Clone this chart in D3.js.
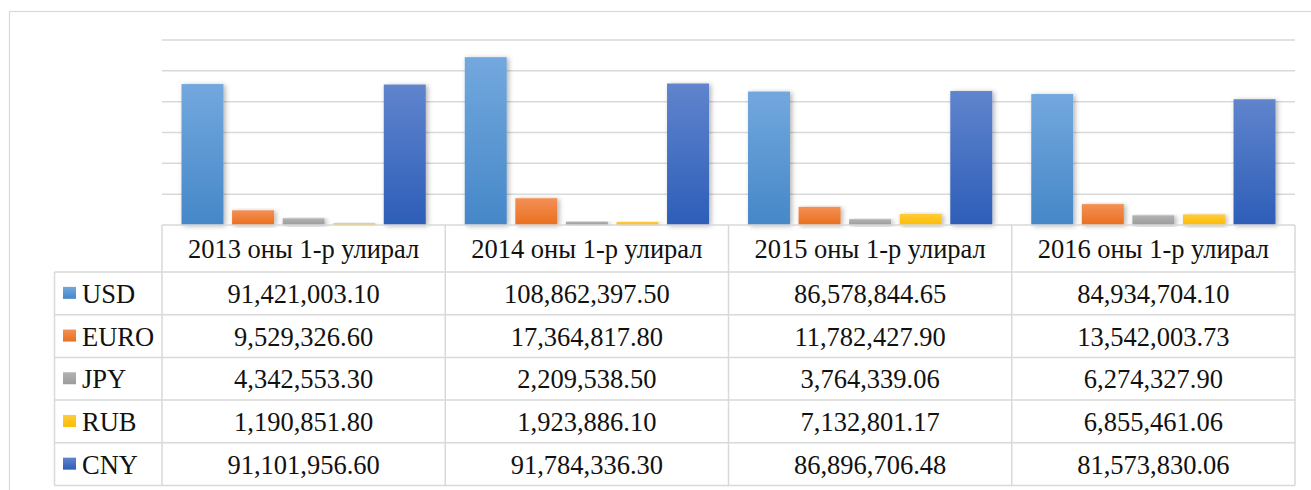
<!DOCTYPE html>
<html>
<head>
<meta charset="utf-8">
<script src="https://cdn.jsdelivr.net/npm/d3@7"></script>
<style>
html,body{margin:0;padding:0;background:#fff;}
svg{display:block;}
</style>
</head>
<body>
<svg id="chart" width="1311" height="490"></svg>
<script>
const categories = ["2013 оны 1-р улирал", "2014 оны 1-р улирал", "2015 оны 1-р улирал", "2016 оны 1-р улирал"];
const seriesNames = ["USD", "EURO", "JPY", "RUB", "CNY"];
const usd  = [91421003.10, 108862397.50, 86578844.65, 84934704.10];
const euro = [9529326.60, 17364817.80, 11782427.90, 13542003.73];
const jpy  = [4342553.30, 2209538.50, 3764339.06, 6274327.90];
const rub  = [1190851.80, 1923886.10, 7132801.17, 6855461.06];
const cny  = [91101956.60, 91784336.30, 86896706.48, 81573830.06];
const yTicks = [0, 20000000, 40000000, 60000000, 80000000, 100000000, 120000000];

(function () {
const seriesValues = [usd, euro, jpy, rub, cny];
const colors = {
  USD:  ["#73a8de", "#4587c8"],
  EURO: ["#f39055", "#ea6f1e"],
  JPY:  ["#b3b3b3", "#9b9b9b"],
  RUB:  ["#ffcb3c", "#fcbd00"],
  CNY:  ["#6084cd", "#2d5eb8"]
};

const svg = d3.select("#chart");
const defs = svg.append("defs");
seriesNames.forEach(s => {
  const g = defs.append("linearGradient").attr("id", "grad-" + s)
    .attr("x1", 0).attr("y1", 0).attr("x2", 0).attr("y2", 1);
  g.append("stop").attr("offset", "0%").attr("stop-color", colors[s][0]);
  g.append("stop").attr("offset", "100%").attr("stop-color", colors[s][1]);
});
const f = defs.append("filter").attr("id", "shadow")
  .attr("x", "-30%").attr("y", "-10%").attr("width", "170%").attr("height", "130%");
f.append("feDropShadow").attr("dx", 2).attr("dy", 1).attr("stdDeviation", 2.5)
  .attr("flood-color", "#000").attr("flood-opacity", 0.3);

const pLeft = 162, pRight = 1295, pTop = 40, pBase = 225;
const x = d3.scaleBand().domain(categories).range([pLeft, pRight]).padding(0);
const bw = x.bandwidth();
const xs = d3.scaleBand().domain(seriesNames).range([19.5, bw - 19.5]).paddingInner(0.17).paddingOuter(0);
const y = d3.scaleLinear().domain([0, 120000000]).range([pBase, pTop]);

// outer frame
svg.append("rect").attr("x", 9.5).attr("y", 11.5).attr("width", 1400).attr("height", 600)
  .attr("fill", "none").attr("stroke", "#d9d9d9").attr("stroke-width", 1.2);

// gridlines
svg.append("g").selectAll("line").data(yTicks.slice(1)).join("line")
  .attr("x1", pLeft).attr("x2", pRight)
  .attr("y1", d => y(d)).attr("y2", d => y(d))
  .attr("stroke", "#d9d9d9").attr("stroke-width", 1.5);

// bars
const barData = [];
seriesNames.forEach((s, si) => {
  categories.forEach((c, ci) => barData.push({s, c, v: seriesValues[si][ci]}));
});
svg.append("g").selectAll("rect").data(barData).join("rect")
  .attr("x", d => x(d.c) + xs(d.s))
  .attr("width", xs.bandwidth())
  .attr("y", d => y(d.v))
  .attr("height", d => y(0) - y(d.v))
  .attr("fill", d => "url(#grad-" + d.s + ")")
  .attr("filter", "url(#shadow)");

// data table
const headerBottom = 272;
const rowH = (485.5 - headerBottom) / seriesNames.length;
const legLeft = 54.5;
const tbl = svg.append("g");
const gridColor = "#d9d9d9";
tbl.append("line").attr("x1", pLeft).attr("x2", pRight).attr("y1", pBase).attr("y2", pBase)
  .attr("stroke", gridColor).attr("stroke-width", 1.5);
const rowLines = d3.range(seriesNames.length + 1).map(i => headerBottom + i * rowH);
tbl.selectAll("line.row").data(rowLines).join("line").attr("class", "row")
  .attr("x1", legLeft).attr("x2", pRight).attr("y1", d => d).attr("y2", d => d)
  .attr("stroke", gridColor).attr("stroke-width", 1.5);
const colXs = categories.map(c => x(c)).concat([pRight]);
tbl.selectAll("line.col").data(colXs).join("line").attr("class", "col")
  .attr("x1", d => d).attr("x2", d => d).attr("y1", pBase).attr("y2", 485.5)
  .attr("stroke", gridColor).attr("stroke-width", 1.5);
tbl.append("line").attr("x1", legLeft).attr("x2", legLeft).attr("y1", headerBottom).attr("y2", 485.5)
  .attr("stroke", gridColor).attr("stroke-width", 1.5);

const font = "'Liberation Serif'";
const fs = "26.5px";
tbl.selectAll("text.hdr").data(categories).join("text").attr("class", "hdr")
  .attr("x", d => x(d) + bw / 2).attr("y", (pBase + headerBottom) / 2 + 9.5)
  .attr("text-anchor", "middle").style("font-family", font).style("font-size", fs)
  .attr("fill", "#111").text(d => d);

const fmt = d3.format(",.2f");
seriesNames.forEach((s, si) => {
  const cy = headerBottom + si * rowH + rowH / 2;
  tbl.append("rect").attr("x", 63).attr("y", cy - 6.5).attr("width", 13).attr("height", 12)
    .attr("fill", "url(#grad-" + s + ")");
  tbl.append("text").attr("x", 82).attr("y", cy + 9.5)
    .style("font-family", font).style("font-size", fs).attr("fill", "#111").text(s);
  categories.forEach((c, ci) => {
    tbl.append("text").attr("x", x(c) + bw / 2).attr("y", cy + 9.5)
      .attr("text-anchor", "middle").style("font-family", font).style("font-size", fs)
      .attr("fill", "#111").text(fmt(seriesValues[si][ci]));
  });
});
})();
</script>
</body>
</html>
